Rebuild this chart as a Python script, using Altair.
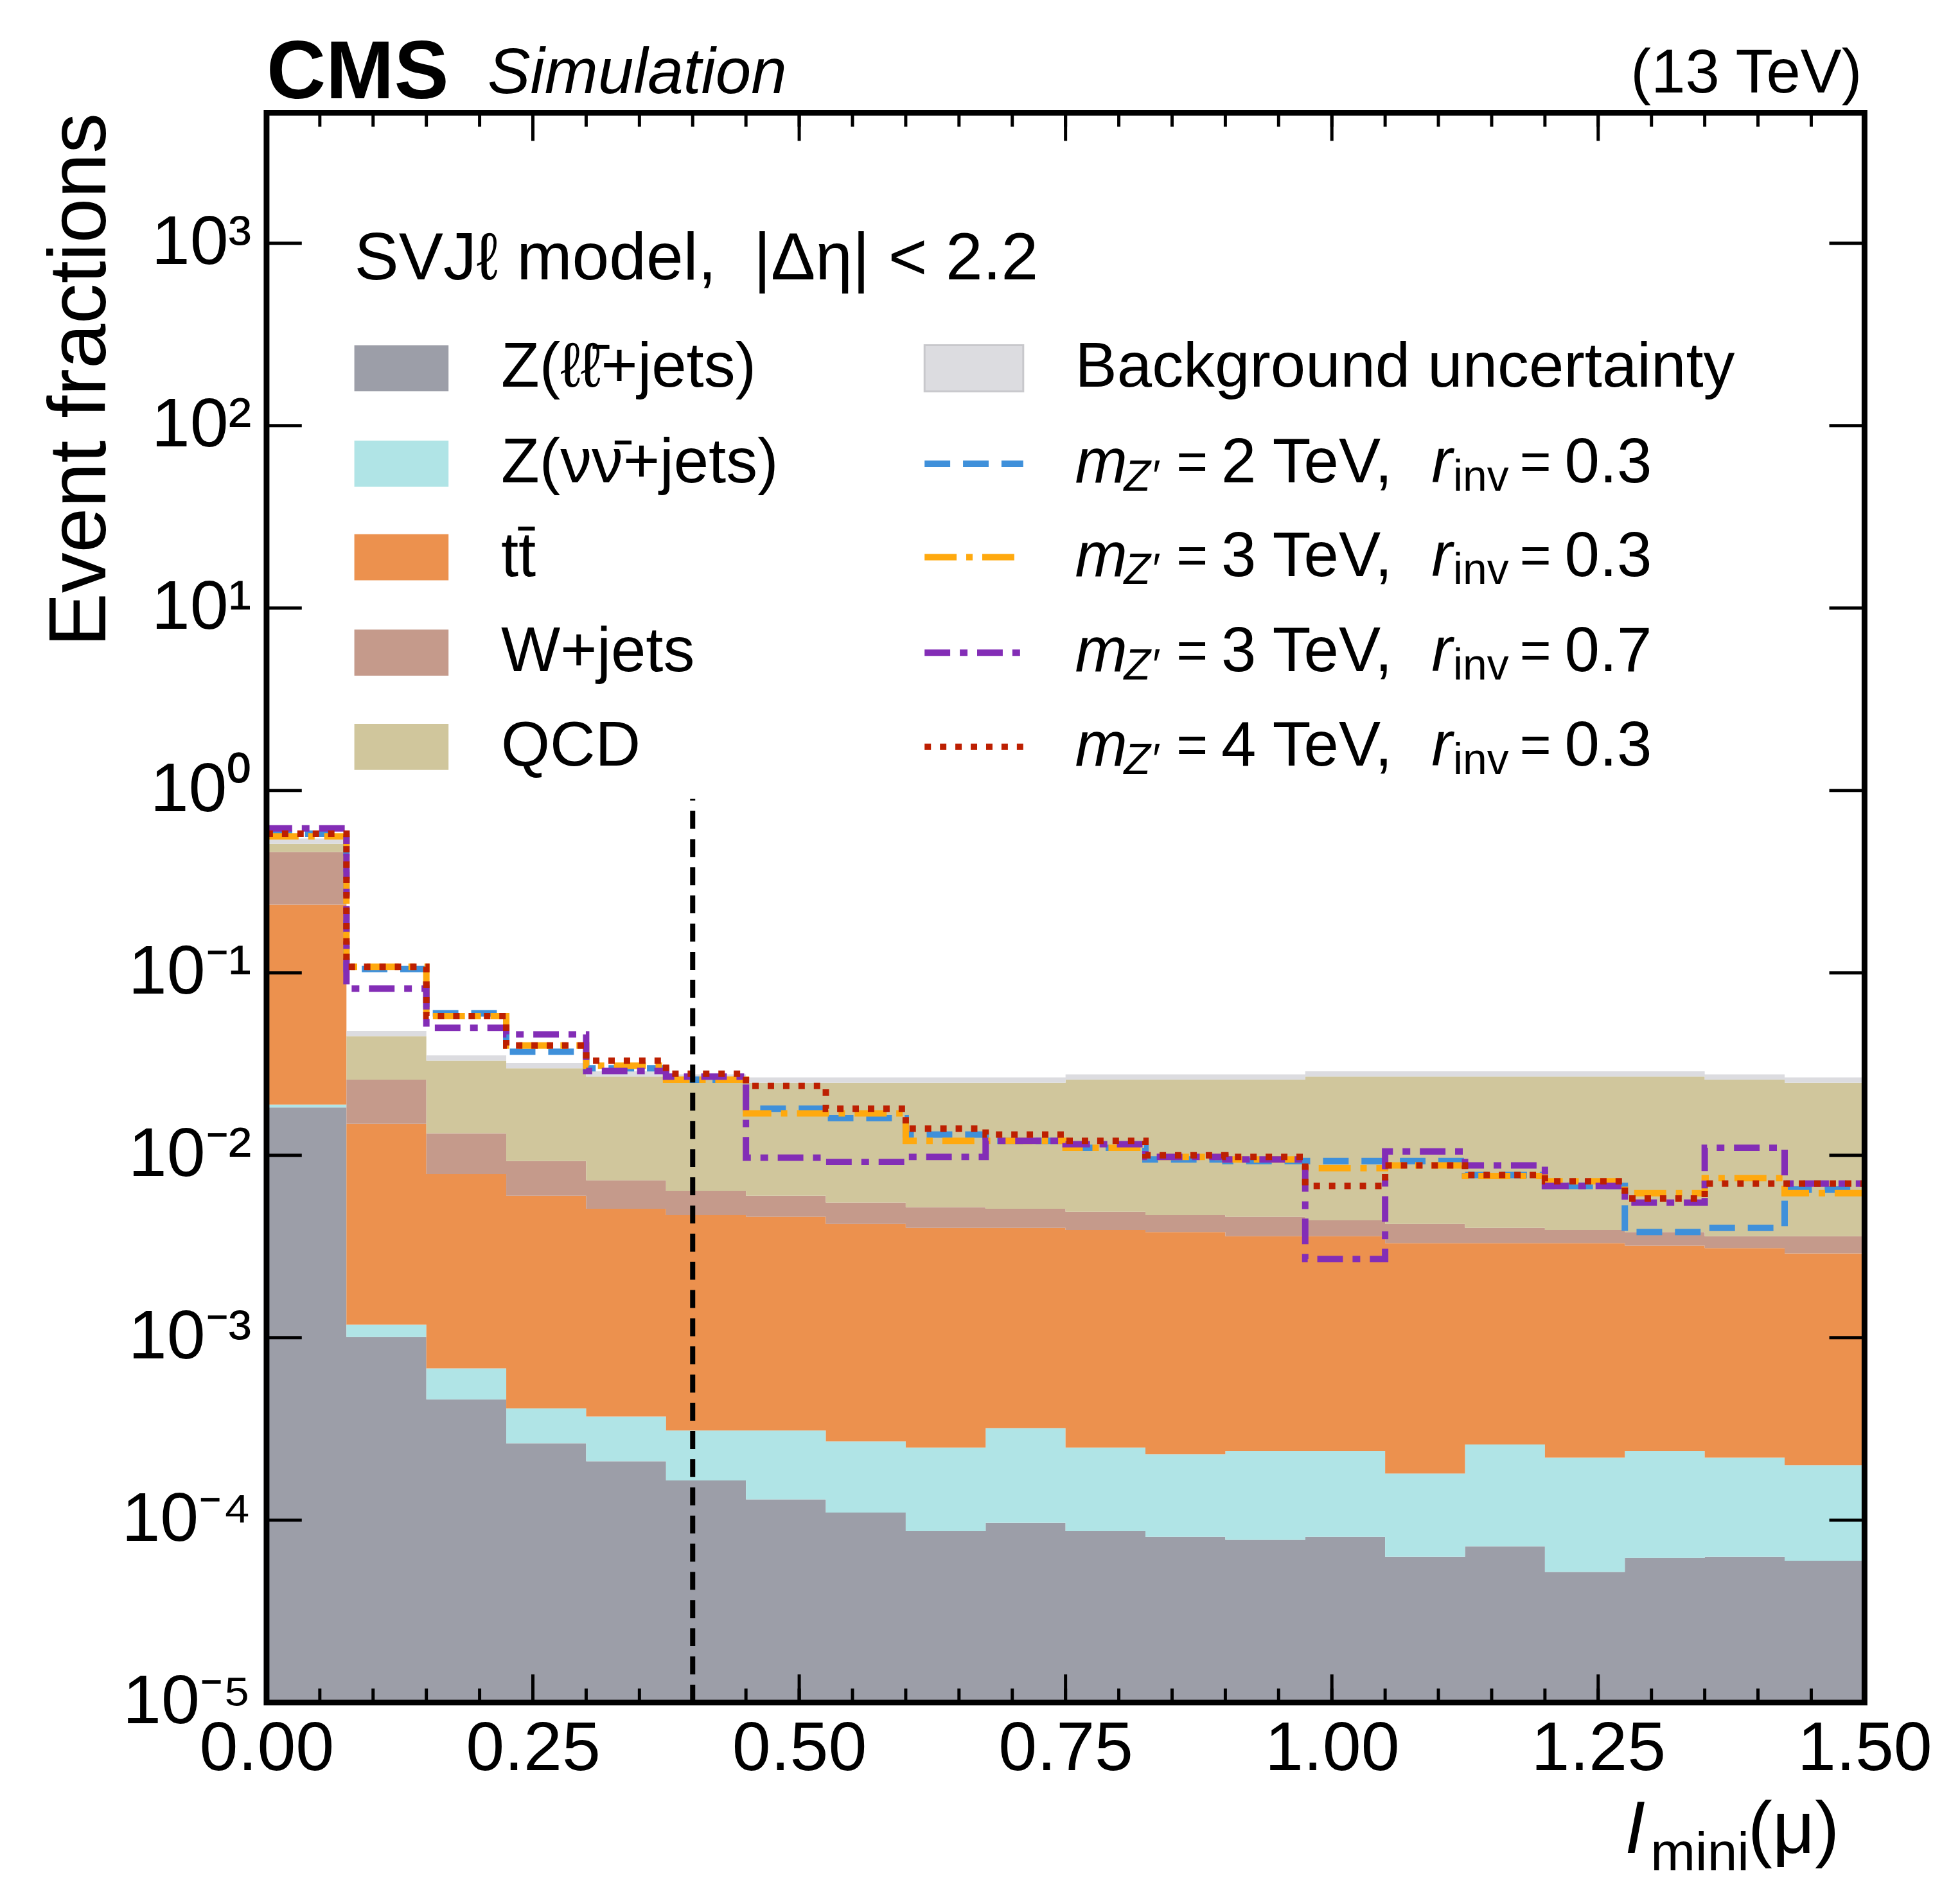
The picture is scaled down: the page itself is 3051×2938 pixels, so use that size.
import altair as alt
import pandas as pd
import numpy as np

edges = [round(0.075 * i, 3) for i in range(21)]
zll = [0.0183, 1.01e-3, 4.6e-4, 2.64e-4, 2.1e-4, 1.65e-4, 1.3e-4, 1.1e-4, 8.7e-5, 9.7e-5,
       8.7e-5, 8.1e-5, 7.8e-5, 8.1e-5, 6.3e-5, 7.2e-5, 5.2e-5, 6.2e-5, 6.3e-5, 6.0e-5]
znn_top = [0.019, 1.18e-3, 6.8e-4, 4.1e-4, 3.7e-4, 3.1e-4, 3.1e-4, 2.7e-4, 2.5e-4, 3.2e-4,
           2.5e-4, 2.3e-4, 2.4e-4, 2.4e-4, 1.8e-4, 2.6e-4, 2.2e-4, 2.4e-4, 2.2e-4, 2.0e-4]
tt_top = [0.237, 0.0149, 7.9e-3, 6.0e-3, 5.1e-3, 4.7e-3, 4.6e-3, 4.2e-3, 4.0e-3, 4.0e-3,
          3.9e-3, 3.8e-3, 3.6e-3, 3.6e-3, 3.3e-3, 3.3e-3, 3.3e-3, 3.2e-3, 3.1e-3, 2.9e-3]
w_top = [0.46, 0.026, 0.0132, 9.3e-3, 7.3e-3, 6.4e-3, 6.0e-3, 5.5e-3, 5.2e-3, 5.1e-3,
         4.9e-3, 4.7e-3, 4.6e-3, 4.4e-3, 4.2e-3, 4.0e-3, 3.9e-3, 3.8e-3, 3.6e-3, 3.6e-3]
qcd_top = [0.51, 0.045, 0.033, 0.030, 0.027, 0.026, 0.025, 0.025, 0.025, 0.025,
           0.026, 0.026, 0.026, 0.027, 0.027, 0.027, 0.027, 0.027, 0.026, 0.025]
sig_2_03 = [0.58, 0.105, 0.060, 0.037, 0.030, 0.026, 0.018, 0.016, 0.013, 0.012,
            0.011, 0.0095, 0.0093, 0.0093, 0.0093, 0.0078, 0.0068, 0.0038, 0.0040, 0.0065]
sig_3_03 = [0.56, 0.108, 0.058, 0.040, 0.031, 0.026, 0.017, 0.017, 0.012, 0.012,
            0.011, 0.0098, 0.0095, 0.0085, 0.0088, 0.0077, 0.0072, 0.0062, 0.0075, 0.0062]
sig_3_07 = [0.62, 0.082, 0.050, 0.046, 0.029, 0.027, 0.0097, 0.0092, 0.0098, 0.012,
            0.0115, 0.0098, 0.0095, 0.0027, 0.0105, 0.0088, 0.0068, 0.0055, 0.011, 0.0070]
sig_4_03 = [0.58, 0.108, 0.058, 0.040, 0.033, 0.028, 0.024, 0.018, 0.014, 0.013,
            0.012, 0.010, 0.0098, 0.0068, 0.0088, 0.0078, 0.0072, 0.0058, 0.0070, 0.0070]

W, H = 2494, 2482
FONT = "Liberation Sans"
YMIN, YMAX = 1e-5, 5200

def ext(v):
    return list(v) + [v[-1]]

bands = [
    ("zll", [YMIN] * 20, zll, "#9c9ea8"),
    ("znn", zll, znn_top, "#b0e4e6"),
    ("tt", znn_top, tt_top, "#ec914e"),
    ("w", tt_top, w_top, "#c59a8b"),
    ("qcd", w_top, qcd_top, "#d0c69c"),
    ("unc", qcd_top, [q * 1.07 for q in qcd_top], "#dcdce0"),
]
xs = alt.X("x:Q", scale=alt.Scale(domain=[0, 1.5], nice=False),
           axis=alt.Axis(values=[0, 0.25, 0.5, 0.75, 1.0, 1.25, 1.5], format=".2f", ticks=False,
                         domain=False, grid=False, labelFontSize=108, labelFont=FONT,
                         labelPadding=20, title=None, labelFlush=False, labelLimit=0))
ys = alt.Y("lo:Q", scale=alt.Scale(type="log", domain=[YMIN, YMAX], nice=False),
           axis=alt.Axis(values=[10.0 ** e for e in range(-5, 4)], ticks=False, domain=False, grid=False,
                         labelFontSize=108, labelFont=FONT, labelPadding=24, labelLimit=0,
                         labelExpr="['10⁻⁵','10⁻⁴','10⁻³','10⁻²','10⁻¹','10⁰','10¹','10²','10³'][round(log(datum.value)/LN10)+5]",
                         title="Event fractions", titleFontSize=126, titleFont=FONT,
                         titleFontWeight="normal", titleAnchor="end", titlePadding=26))
layers = []
for name, lo, hi, col in bands:
    df = pd.DataFrame({"x": edges, "lo": ext(lo), "hi": ext(hi)})
    layers.append(alt.Chart(df).mark_area(interpolate="step-after", color=col, opacity=1)
                  .encode(x=xs, y=ys, y2="hi:Q"))

sigs = [(sig_2_03, "#3f90da", [40, 20]), (sig_3_03, "#ffa90e", [50, 15, 10, 15]),
        (sig_3_07, "#832db6", [40, 15, 12, 15]), (sig_4_03, "#bd1f01", [10, 14])]
for vals, col, dash in sigs:
    df = pd.DataFrame({"x": edges, "lo": ext(vals)})
    layers.append(alt.Chart(df).mark_line(interpolate="step-after", color=col, strokeWidth=10,
                                          strokeDash=dash, clip=True).encode(x=xs, y=ys))

cut = pd.DataFrame({"x": [0.4, 0.4], "lo": [YMIN, 0.9]})
layers.append(alt.Chart(cut).mark_line(color="black", strokeWidth=8, strokeDash=[28, 16]).encode(x=xs, y=ys))

xmaj = pd.DataFrame({"x": [0, 0.25, 0.5, 0.75, 1.0, 1.25, 1.5]})
xmin_ = pd.DataFrame({"x": [round(0.05 * i, 2) for i in range(31)]})
for df, L in [(xmaj, 44), (xmin_, 22)]:
    layers.append(alt.Chart(df).mark_rule(color="black", strokeWidth=5).encode(x=xs, y=alt.value(H), y2=alt.value(H - L)))
    layers.append(alt.Chart(df).mark_rule(color="black", strokeWidth=5).encode(x=xs, y=alt.value(0), y2=alt.value(L)))
ymaj = pd.DataFrame({"lo": [10.0 ** e for e in range(-5, 4)]})
layers.append(alt.Chart(ymaj).mark_rule(color="black", strokeWidth=5).encode(y=ys, x=alt.value(0), x2=alt.value(55)))
layers.append(alt.Chart(ymaj).mark_rule(color="black", strokeWidth=5).encode(y=ys, x=alt.value(W), x2=alt.value(W - 55)))

one = pd.DataFrame({"a": [0]})
layers.append(alt.Chart(one).mark_rect(fill=None, stroke="black", strokeWidth=9, filled=False).encode(
    x=alt.value(0), x2=alt.value(W), y=alt.value(0), y2=alt.value(H)))

def txt(s, x, y, size=94, italic=False, bold=False, align="left", baseline="middle"):
    return alt.Chart(one).mark_text(text=s, font=FONT, fontSize=size, align=align, baseline=baseline,
                                    fontStyle="italic" if italic else "normal",
                                    fontWeight="bold" if bold else "normal", color="black").encode(
        x=alt.value(x), y=alt.value(y))

layers.append(txt("SVJℓ model,\u00a0\u00a0|Δη| < 2.2", 137, 229, size=104))
rows_y = [399, 548, 694, 843, 990]
bg = [("Z(ℓℓ̄+jets)", "#9c9ea8"), ("Z(νν̄+jets)", "#b0e4e6"), ("tt̄", "#ec914e"),
      ("W+jets", "#c59a8b"), ("QCD", "#d0c69c")]
for (lab, col), yy in zip(bg, rows_y):
    layers.append(alt.Chart(one).mark_rect(color=col).encode(x=alt.value(137), x2=alt.value(284),
                                                             y=alt.value(yy - 36), y2=alt.value(yy + 36)))
    layers.append(txt(lab, 366, yy, size=98))
layers.append(alt.Chart(one).mark_rect(color="#dcdce0", stroke="#c8c8cc", strokeWidth=3).encode(
    x=alt.value(1027), x2=alt.value(1181), y=alt.value(rows_y[0] - 36), y2=alt.value(rows_y[0] + 36)))
layers.append(txt("Background uncertainty", 1262, rows_y[0], size=98))
sig_labels = [("2", "0.3"), ("3", "0.3"), ("3", "0.7"), ("4", "0.3")]
for (m, r), yy, (_, col, dash) in zip(sig_labels, rows_y[1:], sigs):
    layers.append(alt.Chart(one).mark_rule(color=col, strokeWidth=10, strokeDash=dash).encode(
        x=alt.value(1027), x2=alt.value(1181), y=alt.value(yy)))
    layers.append(txt("m", 1262, yy, size=98, italic=True))
    layers.append(txt("Z′", 1338, yy + 22, size=68, italic=True))
    layers.append(txt("=", 1420, yy, size=84))
    layers.append(txt(f"{m} TeV,", 1490, yy, size=98))
    layers.append(txt("r", 1818, yy, size=98, italic=True))
    layers.append(txt("inv", 1852, yy + 22, size=68))
    layers.append(txt("=", 1956, yy, size=84))
    layers.append(txt(r, 2026, yy, size=98))

layers.append(txt("CMS", 0, -60, size=128, bold=True))
layers.append(txt("Simulation", 345, -60, size=100, italic=True))
layers.append(txt("(13 TeV)", W - 4, -60, size=96, align="right"))
layers.append(txt("I", 2120, H + 235, size=115, italic=True, baseline="alphabetic"))
layers.append(txt("mini", 2160, H + 262, size=84, baseline="alphabetic"))
layers.append(txt("(μ)", 2312, H + 235, size=115, baseline="alphabetic"))

chart = alt.layer(*layers).properties(
    width=W, height=H, autosize=alt.AutoSizeParams(type="none"),
    padding={"left": 408, "top": 164, "right": 141, "bottom": 276}
).configure_view(stroke=None).configure(background="white")

chart.save("out.html", embed_options={"renderer": "svg", "actions": False})
